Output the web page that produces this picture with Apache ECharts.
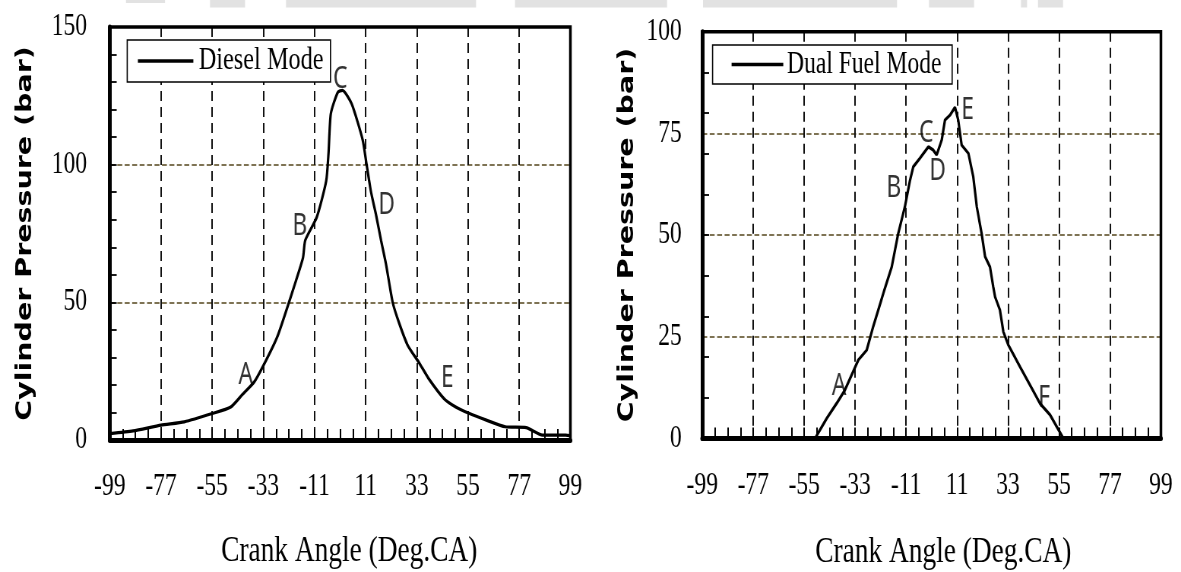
<!DOCTYPE html>
<html><head><meta charset="utf-8">
<script src="https://cdn.jsdelivr.net/npm/echarts@6/dist/echarts.min.js"></script>
<style>
html,body{margin:0;padding:0;background:#fff;overflow:hidden;width:1181px;height:572px;}
#chart{width:1554px;height:572px;transform:scaleX(0.76);transform-origin:0 0;}
</style></head><body><div id="chart"></div>
<script>
// ---- data ----
const crankTicks = [-99, -77, -55, -33, -11, 11, 33, 55, 77, 99];
const dieselTicks = [0, 50, 100, 150];
const dualTicks = [0, 25, 50, 75, 100];
const dualMinorTicks = [0, 10, 20, 30, 40, 50, 60, 70, 80, 90, 100];

const dieselAngle = [-99, -89, -77, -67, -55, -47, -42, -37, -33, -27, -22, -16, -15, -10, -6, -5, -4, -1, 1, 5, 9.7, 11.3, 13.3, 15.4, 17.6, 19.7, 22.6, 25.4, 29, 34, 38, 44.7, 49.7, 55.4, 62.6, 71, 80, 87, 97, 99];
const dieselPressure = [2.3, 3.3, 5.4, 6.6, 9.6, 12, 16.5, 21, 27, 37.5, 50, 66, 72.5, 81, 94, 104, 118.5, 126.3, 127, 122, 109, 100.5, 90, 82, 72.5, 64, 50, 42.4, 34.5, 28, 22.4, 15, 12, 9.7, 7.3, 4.8, 4.5, 1.8, 1.8, 1.6];

const dualAngle = [-50.3, -45.3, -41, -37.4, -31.6, -28, -25.2, -20.8, -17.2, -14.4, -11.5, -9.3, -7.9, -5, -1.4, 0.7, 2.2, 4.4, 5.8, 8, 10.1, 11.5, 13, 15.9, 18, 19.5, 21.6, 23.1, 25.2, 26.6, 27.4, 29.5, 31, 33.1, 38.2, 42.5, 46.8, 51.1, 56.9];
const dualPressure = [0, 4.9, 8.6, 11.9, 19.3, 21.7, 27.5, 35.7, 42.2, 50.4, 57, 63.5, 66.8, 68.9, 71.7, 70.9, 69.7, 73.4, 78.3, 79.5, 81.4, 78.3, 72.1, 70.1, 64.3, 57, 50.4, 44.7, 42.2, 37.3, 34.8, 31.6, 26.2, 23, 17.6, 13.1, 8.6, 5.8, 0];

const dieselMarkNames = ['A', 'B', 'C', 'D', 'E'];
const dieselMarkAngle = [-40.6, -17.3, 0.1, 20, 46.1];
const dieselMarkPressure = [23.6, 77.4, 131, 85.1, 22.2];

const dualMarkNames = ['A', 'B', 'C', 'D', 'E', 'F'];
const dualMarkAngle = [-39.9, -16.3, -2.3, 2.6, 15.5, 48.6];
const dualMarkPressure = [12.7, 61.5, 75, 65.6, 80.7, 9.7];

// ---- chart ----
const S = 0.76;
const serif = 'Liberation Serif';
const chart = echarts.init(document.getElementById('chart'), null, {renderer: 'canvas'});
const G = [
  {left: 144.5, top: 27, width: 606, height: 413},
  {left: 924, top: 31.7, width: 603.5, height: 406.7}
];

function xAxisCfg(gridIndex, margin, nameGap, namePad) {
  return {
    type: 'value', gridIndex: gridIndex,
    min: crankTicks[0], max: crankTicks[crankTicks.length - 1], interval: crankTicks[1] - crankTicks[0],
    name: 'Crank Angle (Deg.CA)', nameLocation: 'middle', nameGap: nameGap,
    nameTextStyle: {fontFamily: serif, fontSize: 36, color: '#000', padding: [0, 0, 0, namePad]},
    axisLine: {show: true, onZero: false, lineStyle: {color: '#000', width: 5}},
    axisTick: {show: true, inside: true, length: 11, lineStyle: {color: '#000', width: 2}},
    minorTick: {show: true, splitNumber: 4, length: 11, lineStyle: {color: '#000', width: 2}},
    axisLabel: {show: true, margin: margin, fontFamily: serif, fontSize: 31, color: '#000', showMinLabel: true, showMaxLabel: true, hideOverlap: false},
    splitLine: {show: true, lineStyle: {color: '#111', type: [10, 6], width: 2}},
    minorSplitLine: {show: false}
  };
}
function yAxisCfg(gridIndex, ticks, margin, nameGap, minorSplit) {
  return {
    type: 'value', gridIndex: gridIndex, position: 'left',
    min: ticks[0], max: ticks[ticks.length - 1], interval: ticks[1] - ticks[0],
    name: 'Cylinder Pressure (bar)', nameLocation: 'middle', nameRotate: 90, nameGap: nameGap,
    nameTextStyle: {fontFamily: 'DejaVu Sans', fontWeight: 'bold', fontSize: 28.5, color: '#000'},
    axisLine: {show: true, onZero: false, lineStyle: {color: '#000', width: 5}},
    axisTick: {show: minorSplit > 0, inside: true, length: 9, lineStyle: {color: '#000', width: 1.8}},
    minorTick: {show: minorSplit > 0, splitNumber: minorSplit || 5, length: 9, lineStyle: {color: '#000', width: 1.8}},
    axisLabel: {show: true, margin: margin, fontFamily: serif, fontSize: 31, color: '#000', showMinLabel: true, showMaxLabel: true, hideOverlap: false},
    splitLine: {show: true, lineStyle: {color: '#54461c', type: [6.5, 3.3], width: 1.6}}
  };
}
function markSeries(names, ang, pres, xi, yi) {
  return {
    type: 'scatter', xAxisIndex: xi, yAxisIndex: yi, silent: true, z: 6,
    symbolSize: 1, itemStyle: {color: 'rgba(0,0,0,0)'},
    data: names.map((n, i) => ({name: n, value: [ang[i], pres[i]]})),
    label: {show: true, position: 'inside', formatter: '{b}', fontFamily: 'Noto Sans', fontSize: 30, color: '#000'}
  };
}
const wm = [[126, 165, 3], [210, 245, 7.5], [286, 476, 7.5], [515, 667, 7.5], [703, 897, 7.5], [929, 974, 7.5], [1021, 1027, 7.5], [1038, 1063, 7.5]];

const gridBase = {show: true, borderColor: '#000', borderWidth: 3.5, backgroundColor: 'transparent', containLabel: false, outerBoundsMode: 'none', z: 3};

const option = {
  animation: false,
  backgroundColor: '#fff',
  graphic: wm.map(r => ({type: 'rect', left: r[0] / S, top: 0, shape: {width: (r[1] - r[0]) / S, height: r[2]}, style: {fill: '#e2e2e2'}, z: 0, silent: true})),
  grid: G.map(g => Object.assign({}, gridBase, g)),
  xAxis: [xAxisCfg(0, 31, 94, 24), xAxisCfg(1, 32, 96, 31)],
  yAxis: [
    yAxisCfg(0, dieselTicks, 30, 96, 5),
    yAxisCfg(1, dualTicks, 27, 84, 0),
    {type: 'value', gridIndex: 1, position: 'right', offset: -G[1].width,
     min: dualMinorTicks[0], max: dualMinorTicks[dualMinorTicks.length - 1], interval: dualMinorTicks[1] - dualMinorTicks[0],
     axisLine: {show: false, onZero: false}, axisLabel: {show: false}, splitLine: {show: false},
     axisTick: {show: true, inside: false, length: 9, lineStyle: {color: '#000', width: 1.8}}}
  ],
  legend: [
    {data: [{name: 'Diesel Mode', icon: 'rect'}], left: 167.4, top: 40, orient: 'horizontal', padding: [5, 9, 5, 14],
     itemWidth: 73, itemHeight: 3.5, borderColor: '#000', borderWidth: 1.6, borderRadius: 0, backgroundColor: '#fff',
     textStyle: {fontFamily: serif, fontSize: 32, color: '#000', padding: [0, 0, 0, 2]}, selectedMode: false},
    {data: [{name: 'Dual Fuel Mode', icon: 'rect'}], left: 937.6, top: 45, orient: 'horizontal', padding: [4, 14, 4, 25],
     itemWidth: 68, itemHeight: 3.5, borderColor: '#000', borderWidth: 1.6, borderRadius: 0, backgroundColor: '#fff',
     textStyle: {fontFamily: serif, fontSize: 31, color: '#000', padding: [0, 0, 0, 0]}, selectedMode: false}
  ],
  series: [
    {type: 'line', name: 'Diesel Mode', xAxisIndex: 0, yAxisIndex: 0, symbol: 'none', z: 5, smooth: 0.2,
     data: dieselAngle.map((a, i) => [a, dieselPressure[i]]),
     lineStyle: {color: '#000', width: 3.2}, itemStyle: {color: '#000'}},
    {type: 'line', name: 'Dual Fuel Mode', xAxisIndex: 1, yAxisIndex: 1, symbol: 'none', z: 5,
     data: dualAngle.map((a, i) => [a, dualPressure[i]]),
     lineStyle: {color: '#000', width: 3.2}, itemStyle: {color: '#000'}},
    markSeries(dieselMarkNames, dieselMarkAngle, dieselMarkPressure, 0, 0),
    markSeries(dualMarkNames, dualMarkAngle, dualMarkPressure, 1, 1)
  ]
};
chart.setOption(option);
</script></body></html>
